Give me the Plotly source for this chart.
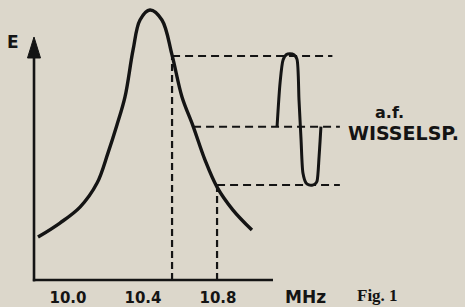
import plotly.graph_objects as go

# ---- data ----
freq_mhz = [9.840, 9.957, 10.064, 10.155, 10.213, 10.261, 10.304, 10.347, 10.384,
            10.437, 10.501, 10.555, 10.608, 10.667, 10.731, 10.795, 10.880, 10.981]
amplitude = [0.159, 0.211, 0.270, 0.359, 0.470, 0.574, 0.678, 0.852, 0.963,
             1.000, 0.963, 0.833, 0.678, 0.570, 0.444, 0.344, 0.259, 0.185]

tick_vals = [10.0, 10.4, 10.8]
tick_text = ["10.0", "10.4", "10.8"]

# working levels of the curve (high / centre / low) and their frequencies
level_hi, level_mid, level_lo = 0.830, 0.568, 0.352
f_hi, f_mid, f_lo = 10.555, 10.667, 10.795
guide_end_hi, guide_end_mid, guide_end_lo = 11.41, 11.45, 11.45

# a.f. output wave (drawn in the same scale, to the right of the curve)
wave_x = [11.115, 11.131, 11.147, 11.165, 11.184, 11.205, 11.221, 11.232, 11.243,
          11.253, 11.269, 11.285, 11.301, 11.318, 11.328, 11.339, 11.349]
wave_y = [0.568, 0.730, 0.815, 0.835, 0.838, 0.834, 0.818, 0.667, 0.519,
          0.396, 0.360, 0.352, 0.351, 0.356, 0.366, 0.456, 0.568]

x_range = [9.63733, 12.11733]
y_range = [-0.02593, 1.0370]
f_axis, f_axis_end = 9.8187, 11.0933
e_arrow_base, e_arrow_tip = 0.845, 0.900

ink = "#141414"
paper = "#dcd7cb"
bold = dict(family="DejaVu Sans", color=ink, weight="bold")

fig = go.Figure()

dash_h = "8px,5px"
dash_v = "7px,4px"
# horizontal guides
for f0, f1, lv in [(f_hi, guide_end_hi, level_hi), (f_mid, guide_end_mid, level_mid),
                   (f_lo, guide_end_lo, level_lo)]:
    fig.add_trace(go.Scatter(x=[f0, f1], y=[lv, lv], mode="lines",
                             line=dict(color=ink, width=2, dash=dash_h),
                             hoverinfo="skip", showlegend=False))
# vertical guides
for f0, lv in [(f_hi, level_hi), (f_lo, level_lo)]:
    fig.add_trace(go.Scatter(x=[f0, f0], y=[0, lv], mode="lines",
                             line=dict(color=ink, width=2.2, dash=dash_v),
                             hoverinfo="skip", showlegend=False))

# resonance curve
fig.add_trace(go.Scatter(x=freq_mhz, y=amplitude, mode="lines",
                         line=dict(color=ink, width=3.4, shape="spline", smoothing=1.0),
                         showlegend=False))
# a.f. wave
fig.add_trace(go.Scatter(x=wave_x, y=wave_y, mode="lines",
                         line=dict(color=ink, width=3, shape="spline", smoothing=0.7),
                         showlegend=False))

shapes = [
    dict(type="line", xref="x", yref="y", x0=f_axis, x1=f_axis, y0=-0.005, y1=e_arrow_base,
         line=dict(color=ink, width=2.6)),
    dict(type="line", xref="x", yref="y", x0=f_axis - 0.006, x1=f_axis_end, y0=0, y1=0,
         line=dict(color=ink, width=2.6)),
    dict(type="path", xref="x", yref="y", xsizemode="pixel", ysizemode="pixel",
         xanchor=f_axis, yanchor=e_arrow_tip,
         path="M-6.5,-21 L0,0 L6.5,-21 Z", fillcolor=ink, line=dict(color=ink, width=1)),
]

def label(text, x, y, size, font=None, xanchor="center"):
    f = dict(size=size, **(font or bold))
    return dict(text=text, x=x, y=y, xref="paper", yref="paper", showarrow=False,
                xanchor=xanchor, yanchor="middle", font=f)

annotations = [
    label("E", 0.028, 0.8537, 17),
    label("a.f.", 0.8387, 0.6063, 16),
    label("WISSELSP.", 0.7440, 0.5366, 19, xanchor="left"),
    label("MHz", 0.656, -0.0348, 17),
    label("Fig. 1", 0.8129, -0.0279, 17,
          font=dict(family="Liberation Serif", color=ink, weight="bold")),
]

fig.update_layout(
    width=465, height=307,
    margin=dict(l=0, r=0, t=0, b=20),
    paper_bgcolor=paper, plot_bgcolor=paper,
    shapes=shapes, annotations=annotations,
    xaxis=dict(range=x_range, tickvals=tick_vals, ticktext=tick_text, ticks="",
               showgrid=False, zeroline=False, showline=False,
               tickfont=dict(size=15, **bold), fixedrange=True),
    yaxis=dict(range=y_range, visible=False, showgrid=False, zeroline=False, fixedrange=True),
)

fig.write_html("out.html", config={"displayModeBar": False},
               post_script="document.body.style.margin='0';document.body.style.background='%s';" % paper)
